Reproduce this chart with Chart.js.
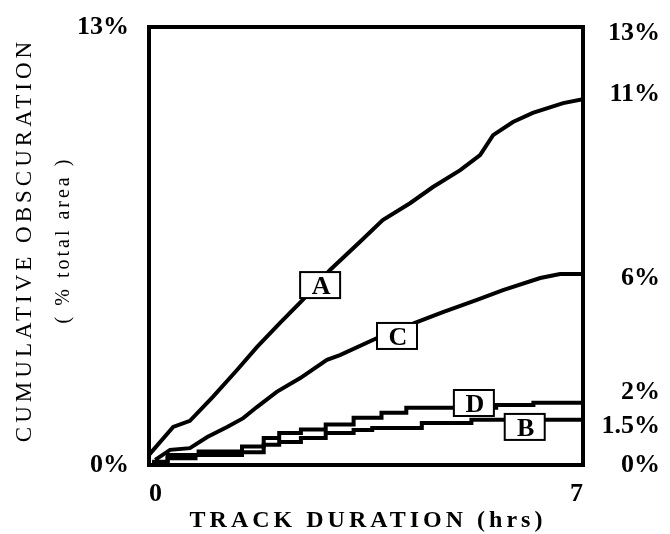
<!DOCTYPE html>
<html>
<head>
<meta charset="utf-8">
<script src="https://cdn.jsdelivr.net/npm/chart.js@4.4.1/dist/chart.umd.min.js"></script>
<style>
  html, body { margin: 0; padding: 0; background: #fff; }
</style>
</head>
<body>
<canvas id="obscurationChart" width="670" height="534"></canvas>
<script>
// track duration (hrs) vs cumulative obscuration (% total area)
const hrsA = [0, 0.39, 0.66, 1.03, 1.42, 1.74, 2.11, 2.48, 2.92, 3.40, 3.77, 4.21, 4.58, 5.02, 5.34, 5.55, 5.87, 6.19, 6.68, 7.0];
const valA = [0.30, 1.13, 1.31, 2.02, 2.82, 3.50, 4.21, 4.90, 5.79, 6.62, 7.27, 7.77, 8.25, 8.75, 9.20, 9.79, 10.18, 10.45, 10.74, 10.86];

const hrsC = [0.1, 0.34, 0.66, 0.94, 1.26, 1.52, 1.74, 2.06, 2.44, 2.87, 3.08, 3.68, 4.32, 4.74, 5.29, 5.71, 6.31, 6.63, 7.0];
const valC = [0.15, 0.45, 0.50, 0.83, 1.13, 1.39, 1.72, 2.17, 2.58, 3.12, 3.26, 3.77, 4.24, 4.54, 4.90, 5.19, 5.55, 5.67, 5.67];

const hrsD = [0.05, 0.3, 0.8, 1.5, 1.85, 2.1, 2.45, 2.85, 3.3, 3.75, 4.15, 5.6, 6.2, 7.0];
const valD = [0.1, 0.3, 0.4, 0.55, 0.8, 0.95, 1.05, 1.2, 1.4, 1.55, 1.7, 1.78, 1.85, 1.85];

const hrsB = [0.05, 0.3, 0.75, 1.5, 1.85, 2.1, 2.45, 2.85, 3.3, 3.6, 4.4, 5.2, 7.0];
const valB = [0.05, 0.2, 0.3, 0.38, 0.6, 0.68, 0.8, 0.95, 1.04, 1.1, 1.25, 1.34, 1.34];

// boxed letters on the curves
const tagNames = ['A', 'B', 'C', 'D'];
const tagHrs = [2.76, 6.06, 4.0, 5.24];
const tagVal = [5.34, 1.13, 3.83, 1.84];

// axis tick labels
const xTicks = [0, 7];
const leftTicks = [0, 13];
const rightTickVal = [0, 1.16, 2.17, 5.55, 11, 12.82];
const rightTickText = ['0%', '1.5%', '2%', '6%', '11%', '13%'];

const toPoints = (xs, ys) => xs.map((x, i) => ({ x: x, y: ys[i] }));

const serif = '"Liberation Serif", "Times New Roman", serif';

const extrasPlugin = {
  id: 'extras',
  afterDatasetsDraw(chart) {
    const { ctx, chartArea, scales } = chart;
    ctx.save();

    // black frame round the plot
    ctx.strokeStyle = '#000';
    ctx.lineWidth = 4;
    ctx.strokeRect(chartArea.left, chartArea.top, chartArea.right - chartArea.left, chartArea.bottom - chartArea.top);

    // letter tags
    ctx.font = 'bold 26px ' + serif;
    ctx.textAlign = 'center';
    ctx.textBaseline = 'middle';
    ctx.lineWidth = 2;
    tagNames.forEach((name, i) => {
      const cx = scales.x.getPixelForValue(tagHrs[i]);
      const cy = scales.y.getPixelForValue(tagVal[i]);
      ctx.fillStyle = '#fff';
      ctx.fillRect(cx - 20, cy - 13, 40, 26);
      ctx.strokeRect(cx - 20, cy - 13, 40, 26);
      ctx.fillStyle = '#000';
      ctx.fillText(name, cx + 1, cy + 2);
    });
    ctx.restore();
  },
  afterDraw(chart) {
    const { ctx } = chart;
    ctx.save();
    ctx.fillStyle = '#000';
    ctx.textAlign = 'center';
    ctx.textBaseline = 'middle';

    // x title
    ctx.font = 'bold 24px ' + serif;
    ctx.letterSpacing = '4px';
    ctx.fillText('TRACK DURATION (hrs)', 368, 521);

    // y titles, rotated
    ctx.translate(25, 240);
    ctx.rotate(-Math.PI / 2);
    ctx.font = '23px ' + serif;
    ctx.letterSpacing = '4px';
    ctx.fillText('CUMULATIVE OBSCURATION', 0, 0);
    ctx.font = '20px ' + serif;
    ctx.letterSpacing = '3px';
    ctx.fillText('( % total area )', 0, 39);
    ctx.restore();
  }
};

// keep the tick labels from pushing the plot area in
const noScalePadding = (scale) => {
  scale.paddingTop = 0;
  scale.paddingBottom = 0;
};

const ctx = document.getElementById('obscurationChart').getContext('2d');
const lineStyle = { borderColor: '#000', borderWidth: 4, pointRadius: 0, fill: false, tension: 0 };

const obscurationChart = new Chart(ctx, {
  type: 'line',
  data: {
    datasets: [
      { label: 'A', data: toPoints(hrsA, valA), ...lineStyle },
      { label: 'B', data: toPoints(hrsB, valB), ...lineStyle, stepped: true },
      { label: 'C', data: toPoints(hrsC, valC), ...lineStyle },
      { label: 'D', data: toPoints(hrsD, valD), ...lineStyle, stepped: true }
    ]
  },
  options: {
    responsive: false,
    animation: false,
    layout: { padding: { top: 27, right: 10, bottom: 0, left: 0 } },
    plugins: {
      legend: { display: false },
      tooltip: { enabled: false }
    },
    scales: {
      x: {
        type: 'linear',
        min: 0,
        max: 7,
        afterBuildTicks: (scale) => { scale.ticks = xTicks.map((v) => ({ value: v })); },
        afterFit: (scale) => { scale.height = 69; scale.paddingLeft = 0; scale.paddingRight = 0; },
        grid: { display: false, drawTicks: false },
        border: { display: false },
        ticks: {
          color: '#000',
          align: 'inner',
          padding: 14,
          font: { family: serif, size: 26, weight: 'bold' },
          callback: (v) => String(v)
        }
      },
      y: {
        min: 0,
        max: 13,
        afterBuildTicks: (scale) => { scale.ticks = leftTicks.map((v) => ({ value: v })); },
        afterFit: (scale) => { scale.width = 149; noScalePadding(scale); },
        grid: { display: false, drawTicks: false },
        border: { display: false },
        ticks: {
          color: '#000',
          padding: 20,
          font: { family: serif, size: 26, weight: 'bold' },
          callback: (v) => v + '%'
        }
      },
      y2: {
        position: 'right',
        min: 0,
        max: 13,
        afterBuildTicks: (scale) => { scale.ticks = rightTickVal.map((v) => ({ value: v })); },
        afterFit: (scale) => { scale.width = 77; noScalePadding(scale); },
        grid: { display: false, drawTicks: false },
        border: { display: false },
        ticks: {
          color: '#000',
          autoSkip: false,
          crossAlign: 'far',
          font: { family: serif, size: 26, weight: 'bold' },
          callback: (v, i) => rightTickText[i]
        }
      }
    }
  },
  plugins: [extrasPlugin]
});
</script>
</body>
</html>
